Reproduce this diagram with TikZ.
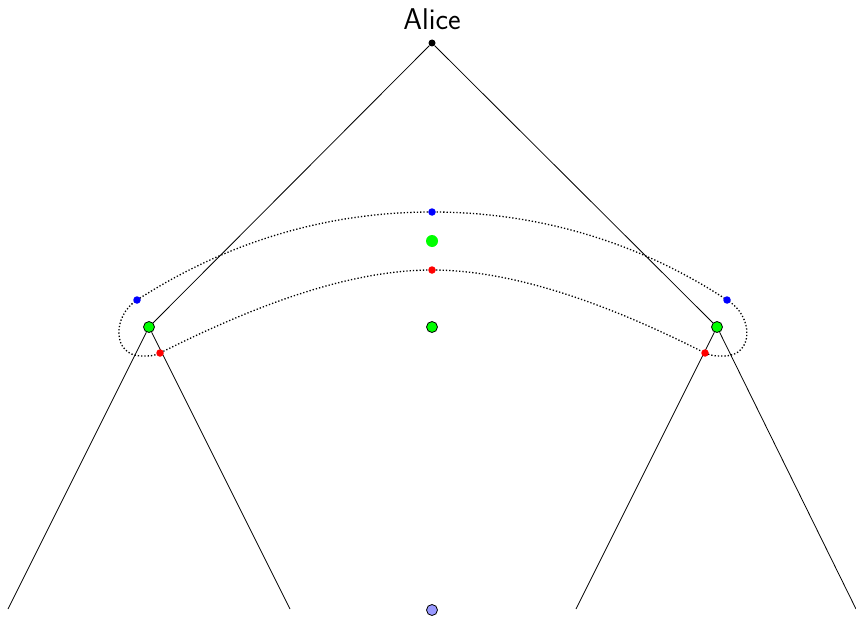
\documentclass[tikz,border=0pt]{standalone}
\begin{document}
\begin{tikzpicture}[x=1pt,y=-1pt,
  dotb/.style={circle,fill=blue,inner sep=0pt,minimum size=7.5pt},
  dotr/.style={circle,fill=red,inner sep=0pt,minimum size=7.5pt},
  vert/.style={circle,draw=black,fill=green,inner sep=0pt,minimum size=11pt,line width=0.8pt},
  root/.style={circle,fill=black,inner sep=0pt,minimum size=7pt},
  edge/.style={line width=0.8pt}]
\useasboundingbox (0,0) rectangle (856,618);
\node[root] (r) at (432,43) {};
\node[font=\sffamily\fontsize{30}{34}\selectfont] (alice) at (432,19) {Alice};
\coordinate (l1) at (8,609);
\coordinate (l2) at (290,609);
\coordinate (r1) at (576,609);
\coordinate (r2) at (856,609);
\node[vert] (L) at (149,327) {};
\node[vert] (R) at (717,327) {};
\draw[edge] (r) -- (L);
\draw[edge] (r) -- (R);
\draw[edge] (L) -- (l1);
\draw[edge] (L) -- (l2);
\draw[edge] (R) -- (r1);
\draw[edge] (R) -- (r2);
\coordinate (pb1) at (432,212);
\coordinate (pb2) at (137,300);
\coordinate (pb3) at (727,300);
\coordinate (pd1) at (432,270);
\coordinate (pd2) at (160,353);
\coordinate (pd3) at (705,353);
\draw[line width=1.3pt,dotted]
  (pb2) .. controls (230,240) and (330,212) .. (pb1)
  .. controls (534,212) and (636,240) .. (pb3)
  .. controls (754,316) and (754,356) .. (724,356)
  .. controls (716,356) and (712,356) .. (pd3)
  .. controls (620,310) and (520,270) .. (pd1)
  .. controls (344,270) and (246,310) .. (pd2)
  .. controls (154,356) and (150,356) .. (142,356)
  .. controls (112,356) and (112,316) .. (pb2);
\node[dotb] (b1) at (pb1) {};
\node[dotb] (b2) at (pb2) {};
\node[dotb] (b3) at (pb3) {};
\node[dotr] (d1) at (pd1) {};
\node[dotr] (d2) at (pd2) {};
\node[dotr] (d3) at (pd3) {};
\node[vert] (C) at (432,327) {};
\node[circle,fill=green,inner sep=0pt,minimum size=12pt] (G) at (432,241) {};
\node[circle,draw=black,fill=blue!40,inner sep=0pt,minimum size=11pt,line width=0.8pt] (B) at (432,610) {};
\end{tikzpicture}
\end{document}
